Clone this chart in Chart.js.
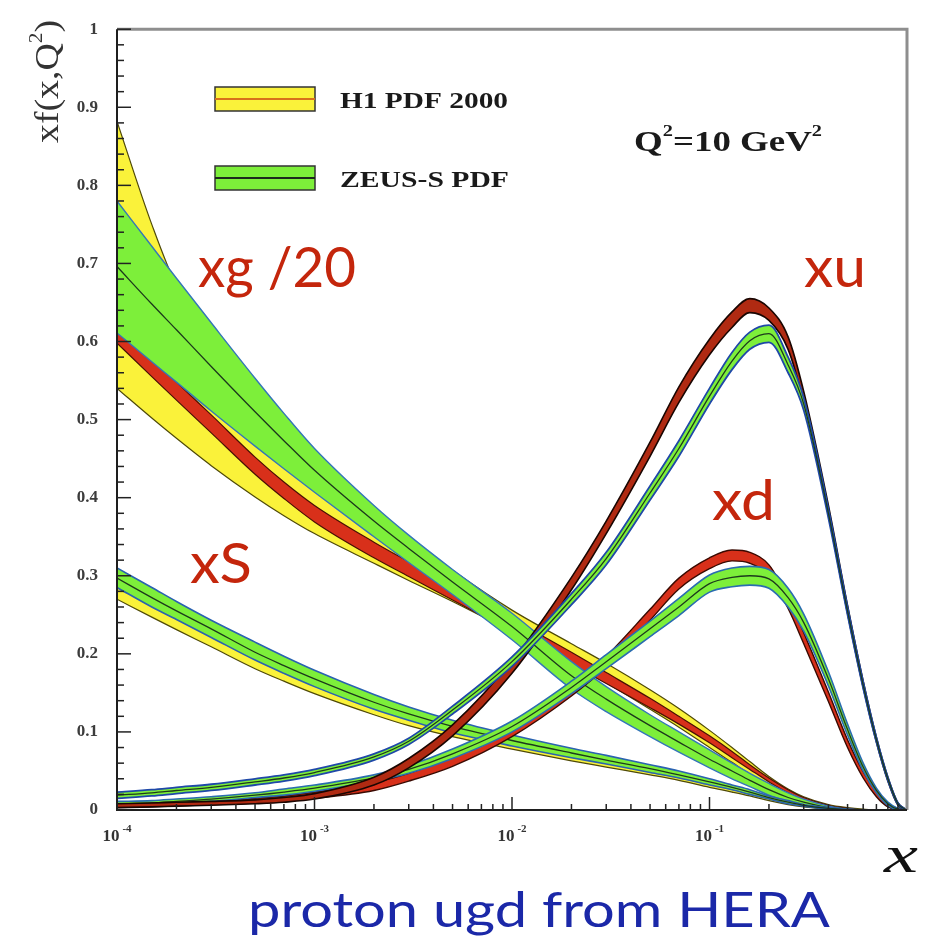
<!DOCTYPE html>
<html>
<head>
<meta charset="UTF-8" />
<script src="https://cdn.jsdelivr.net/npm/chart.js@4.4.1/dist/chart.umd.min.js"></script>
<style>
  html, body { margin: 0; padding: 0; background: #fff; }
  #wrap { width: 932px; height: 942px; position: relative; }
</style>
</head>
<body>
<div id="wrap"><canvas id="pdfChart"></canvas></div>
<script>
// x grid shared by every curve (log scale, 1e-4 .. 1)
const xs = [1e-4, 1.5e-4, 2e-4, 3e-4, 5e-4, 7e-4, 1e-3, 2e-3, 3e-3, 5e-3, 1e-2, 2e-2, 3e-2, 5e-2,
            0.07, 0.1, 0.13, 0.16, 0.2, 0.25, 0.3, 0.4, 0.5, 0.6, 0.7, 0.8, 0.9, 1.0];

// gluon xg/20 - H1 total band (yellow) and inner band (red)
const gH1Hi    = [0.882, 0.75, 0.672, 0.612, 0.545, 0.50, 0.456, 0.383, 0.349, 0.307, 0.256, 0.213, 0.188, 0.154, 0.13, 0.102, 0.08, 0.062, 0.043, 0.027, 0.017, 0.007, 0.003, 0.001, 0, 0, 0, 0];
const gH1Lo    = [0.54, 0.502, 0.476, 0.441, 0.401, 0.377, 0.354, 0.316, 0.294, 0.267, 0.228, 0.188, 0.163, 0.129, 0.106, 0.08, 0.061, 0.046, 0.031, 0.019, 0.011, 0.004, 0.001, 0, 0, 0, 0, 0];
const gH1ExpHi = [0.62, 0.578, 0.548, 0.506, 0.452, 0.42, 0.39, 0.343, 0.318, 0.287, 0.245, 0.202, 0.176, 0.143, 0.12, 0.095, 0.075, 0.058, 0.041, 0.026, 0.016, 0.006, 0.002, 0, 0, 0, 0, 0];
const gH1ExpLo = [0.598, 0.555, 0.525, 0.483, 0.43, 0.399, 0.369, 0.323, 0.299, 0.269, 0.228, 0.187, 0.162, 0.131, 0.11, 0.086, 0.067, 0.052, 0.036, 0.022, 0.013, 0.004, 0.001, 0, 0, 0, 0, 0];
// gluon xg/20 - ZEUS-S band (green)
const gZeusHi  = [0.78, 0.722, 0.681, 0.624, 0.553, 0.508, 0.463, 0.39, 0.352, 0.308, 0.252, 0.19, 0.158, 0.122, 0.1, 0.077, 0.06, 0.047, 0.034, 0.022, 0.014, 0.005, 0.001, 0, 0, 0, 0, 0];
const gZeusMid = [0.696, 0.648, 0.615, 0.568, 0.51, 0.473, 0.435, 0.37, 0.335, 0.292, 0.235, 0.172, 0.142, 0.108, 0.087, 0.065, 0.05, 0.038, 0.026, 0.016, 0.01, 0.003, 0.0005, 0, 0, 0, 0, 0];
const gZeusLo  = [0.611, 0.574, 0.548, 0.511, 0.466, 0.437, 0.407, 0.35, 0.317, 0.276, 0.218, 0.155, 0.126, 0.094, 0.074, 0.054, 0.04, 0.03, 0.019, 0.011, 0.006, 0.001, 0, 0, 0, 0, 0, 0];

// sea xS
const sH1Hi    = [0.288, 0.263, 0.247, 0.224, 0.195, 0.178, 0.161, 0.132, 0.118, 0.102, 0.085, 0.07, 0.061, 0.05, 0.043, 0.034, 0.027, 0.021, 0.015, 0.009, 0.0055, 0.0018, 0.0004, 0, 0, 0, 0, 0];
const sH1Lo    = [0.27, 0.247, 0.231, 0.209, 0.181, 0.165, 0.149, 0.122, 0.108, 0.094, 0.078, 0.063, 0.055, 0.045, 0.038, 0.029, 0.023, 0.018, 0.012, 0.007, 0.004, 0.001, 0, 0, 0, 0, 0, 0];
const sZeusHi  = [0.31, 0.285, 0.267, 0.243, 0.215, 0.197, 0.179, 0.148, 0.132, 0.115, 0.096, 0.079, 0.07, 0.058, 0.05, 0.04, 0.032, 0.026, 0.018, 0.012, 0.007, 0.003, 0.001, 0, 0, 0, 0, 0];
const sZeusMid = [0.297, 0.272, 0.255, 0.232, 0.202, 0.185, 0.168, 0.138, 0.123, 0.107, 0.089, 0.073, 0.064, 0.053, 0.045, 0.036, 0.029, 0.023, 0.016, 0.01, 0.006, 0.002, 0.0005, 0, 0, 0, 0, 0];
const sZeusLo  = [0.285, 0.26, 0.244, 0.221, 0.192, 0.175, 0.158, 0.129, 0.115, 0.099, 0.082, 0.067, 0.059, 0.048, 0.041, 0.032, 0.026, 0.02, 0.014, 0.008, 0.005, 0.0015, 0.0003, 0, 0, 0, 0, 0];

// valence d: xd
const dH1Hi    = [0.007, 0.008, 0.009, 0.011, 0.015, 0.018, 0.023, 0.035, 0.047, 0.068, 0.106, 0.158, 0.197, 0.257, 0.297, 0.323, 0.333, 0.33, 0.314, 0.272, 0.227, 0.151, 0.09, 0.049, 0.023, 0.008, 0.002, 0];
const dH1Lo    = [0.003, 0.004, 0.005, 0.007, 0.009, 0.012, 0.015, 0.025, 0.037, 0.056, 0.094, 0.146, 0.183, 0.243, 0.283, 0.309, 0.319, 0.316, 0.3, 0.258, 0.213, 0.139, 0.08, 0.041, 0.017, 0.004, 0.0005, 0];
const dZeusHi  = [0.011, 0.012, 0.014, 0.017, 0.022, 0.027, 0.032, 0.045, 0.057, 0.078, 0.114, 0.165, 0.199, 0.242, 0.271, 0.301, 0.31, 0.312, 0.308, 0.284, 0.251, 0.177, 0.11, 0.06, 0.028, 0.01, 0.002, 0];
const dZeusMid = [0.008, 0.009, 0.011, 0.014, 0.019, 0.023, 0.028, 0.041, 0.052, 0.072, 0.107, 0.157, 0.19, 0.232, 0.26, 0.29, 0.298, 0.3, 0.296, 0.272, 0.24, 0.168, 0.103, 0.055, 0.025, 0.008, 0.001, 0];
const dZeusLo  = [0.005, 0.006, 0.008, 0.011, 0.016, 0.019, 0.024, 0.037, 0.047, 0.066, 0.1, 0.149, 0.181, 0.222, 0.249, 0.279, 0.286, 0.288, 0.284, 0.26, 0.229, 0.159, 0.096, 0.05, 0.022, 0.006, 0.0005, 0];

// valence u: xu
const uH1Hi    = [0.008, 0.009, 0.01, 0.011, 0.013, 0.016, 0.021, 0.042, 0.066, 0.109, 0.191, 0.298, 0.37, 0.471, 0.542, 0.603, 0.638, 0.655, 0.643, 0.606, 0.536, 0.39, 0.262, 0.165, 0.093, 0.042, 0.009, 0];
const uH1Lo    = [0.003, 0.004, 0.005, 0.006, 0.008, 0.01, 0.014, 0.032, 0.054, 0.095, 0.175, 0.282, 0.354, 0.453, 0.522, 0.583, 0.618, 0.637, 0.627, 0.59, 0.522, 0.378, 0.252, 0.157, 0.087, 0.037, 0.006, 0];
const uZeusHi  = [0.023, 0.026, 0.029, 0.033, 0.040, 0.045, 0.052, 0.072, 0.092, 0.133, 0.196, 0.277, 0.33, 0.415, 0.473, 0.54, 0.586, 0.612, 0.621, 0.58, 0.528, 0.386, 0.26, 0.164, 0.093, 0.042, 0.009, 0];
const uZeusMid = [0.019, 0.022, 0.025, 0.029, 0.036, 0.041, 0.048, 0.068, 0.088, 0.128, 0.19, 0.27, 0.322, 0.406, 0.463, 0.53, 0.575, 0.601, 0.61, 0.57, 0.52, 0.38, 0.255, 0.16, 0.09, 0.04, 0.008, 0];
const uZeusLo  = [0.015, 0.018, 0.021, 0.025, 0.032, 0.037, 0.044, 0.064, 0.084, 0.123, 0.184, 0.263, 0.314, 0.397, 0.453, 0.52, 0.564, 0.59, 0.599, 0.56, 0.512, 0.374, 0.25, 0.156, 0.087, 0.038, 0.007, 0];

// axis labels
const xDecades = [1e-4, 1e-3, 1e-2, 1e-1];
const xTickExponents = ['-4', '-3', '-2', '-1'];
const yTickLabels = ['0', '0.1', '0.2', '0.3', '0.4', '0.5', '0.6', '0.7', '0.8', '0.9', '1'];

const YELLOW = '#faf23a';
const RED = '#d8301a';
const GREEN = '#7def3a';

const datasets = [];
const pts = (ys) => xs.map((x, i) => ({ x: x, y: ys[i] }));

// one band = lower edge + upper edge filled down to it (+ optional centre line)
// larger layer number = drawn further underneath
function addBand(hi, lo, mid, fillColor, edgeColor, edgeWidth, midColor, layer) {
  const loIndex = datasets.length;
  datasets.push({ data: pts(lo), borderColor: edgeColor, borderWidth: edgeWidth, fill: false, order: layer + 0.1 });
  datasets.push({ data: pts(hi), borderColor: edgeColor, borderWidth: edgeWidth, backgroundColor: fillColor, fill: loIndex, order: layer + 0.2 });
  if (mid) {
    datasets.push({ data: pts(mid), borderColor: midColor, borderWidth: 1.3, fill: false, order: layer });
  }
}

addBand(gH1Hi, gH1Lo, null, YELLOW, '#4f4a08', 1.2, null, 90);
addBand(gH1ExpHi, gH1ExpLo, null, RED, '#4a1005', 1.2, null, 85);
addBand(gZeusHi, gZeusLo, gZeusMid, GREEN, '#3476b8', 1.4, '#1c3a1c', 80);
addBand(sH1Hi, sH1Lo, null, YELLOW, '#4f4a08', 1.2, null, 70);
addBand(sZeusHi, sZeusLo, sZeusMid, GREEN, '#2a62b0', 1.6, '#1c3a1c', 65);
addBand(dH1Hi, dH1Lo, null, RED, '#3a0a02', 1.4, null, 50);
addBand(dZeusHi, dZeusLo, dZeusMid, GREEN, '#2a6cb0', 1.6, '#1c3a1c', 45);
addBand(uH1Hi, uH1Lo, null, '#b02a12', '#1a0602', 1.6, null, 30);
addBand(uZeusHi, uZeusLo, uZeusMid, GREEN, '#1f48a8', 1.8, '#1c3a1c', 25);

// draws text pieces in a row, squeezed/stretched to a target width
function drawFitted(ctx, parts, x, y, width) {
  let total = 0;
  parts.forEach((p) => { ctx.font = p.font; p.w = ctx.measureText(p.text).width; total += p.w; });
  ctx.save();
  ctx.translate(x, y);
  ctx.scale(width / total, 1);
  let cx = 0;
  parts.forEach((p) => { ctx.font = p.font; ctx.fillText(p.text, cx, p.dy || 0); cx += p.w; });
  ctx.restore();
}

const framePlugin = {
  id: 'frame',
  afterDatasetsDraw(chart) {
    const ctx = chart.ctx;
    const { left, right, top, bottom } = chart.chartArea;
    const xScale = chart.scales.x;
    const yScale = chart.scales.y;
    ctx.save();
    // gray top/right, black left/bottom
    ctx.strokeStyle = '#8e8e8e';
    ctx.lineWidth = 3;
    ctx.beginPath();
    ctx.moveTo(left, top); ctx.lineTo(right, top); ctx.lineTo(right, bottom);
    ctx.stroke();
    ctx.strokeStyle = '#1e1e1e';
    ctx.lineWidth = 2;
    ctx.beginPath();
    ctx.moveTo(left, top); ctx.lineTo(left, bottom); ctx.lineTo(right, bottom);
    ctx.stroke();

    // inward ticks
    ctx.lineWidth = 1.5;
    ctx.strokeStyle = '#222';
    yScale.ticks.forEach((t) => {
      const py = yScale.getPixelForValue(t.value);
      const len = Math.round(t.value * 50) % 5 === 0 ? 14 : 7;
      ctx.beginPath(); ctx.moveTo(left, py); ctx.lineTo(left + len, py); ctx.stroke();
    });
    xDecades.forEach((d) => {
      for (let m = 1; m <= 9; m++) {
        const px = xScale.getPixelForValue(m * d);
        const len = m === 1 ? 13 : 6;
        ctx.beginPath(); ctx.moveTo(px, bottom); ctx.lineTo(px, bottom - len); ctx.stroke();
      }
    });
    ctx.restore();
  },
  afterDraw(chart) {
    const ctx = chart.ctx;
    const xScale = chart.scales.x;
    ctx.save();
    ctx.textBaseline = 'alphabetic';
    ctx.textAlign = 'left';

    // x tick labels 10^-n
    ctx.fillStyle = '#333';
    xDecades.forEach((d, i) => {
      const px = xScale.getPixelForValue(d);
      ctx.font = 'bold 17px "Liberation Serif"';
      const w1 = ctx.measureText('10').width;
      ctx.font = 'bold 11px "Liberation Serif"';
      const w2 = ctx.measureText(xTickExponents[i]).width;
      const x0 = px - (w1 + 3 + w2) / 2;
      ctx.font = 'bold 17px "Liberation Serif"';
      ctx.fillText('10', x0, 841);
      ctx.font = 'bold 11px "Liberation Serif"';
      ctx.fillText(xTickExponents[i], x0 + w1 + 3, 832);
    });

    // y axis title, rotated
    ctx.save();
    ctx.translate(58, 143);
    ctx.rotate(-Math.PI / 2);
    ctx.fillStyle = '#333';
    drawFitted(ctx, [
      { text: 'xf(x,Q', font: '34px "Liberation Serif"' },
      { text: '2', font: '19px "Liberation Serif"', dy: -16 },
      { text: ')', font: '34px "Liberation Serif"' }
    ], 0, 0, 123);
    ctx.restore();

    // legend swatches
    const swatch = (y, fill, lineColor) => {
      ctx.fillStyle = fill;
      ctx.fillRect(215, y, 100, 24);
      ctx.strokeStyle = '#333';
      ctx.lineWidth = 1.5;
      ctx.strokeRect(215, y, 100, 24);
      ctx.strokeStyle = lineColor;
      ctx.lineWidth = 2;
      ctx.beginPath(); ctx.moveTo(215, y + 12); ctx.lineTo(315, y + 12); ctx.stroke();
    };
    swatch(87, YELLOW, '#d8701a');
    swatch(166, GREEN, '#1c2a1c');
    ctx.fillStyle = '#1a1a1a';
    drawFitted(ctx, [{ text: 'H1 PDF 2000', font: 'bold 24px "Liberation Serif"' }], 340, 108, 168);
    drawFitted(ctx, [{ text: 'ZEUS-S PDF', font: 'bold 24px "Liberation Serif"' }], 340, 187, 169);

    // Q^2 label
    drawFitted(ctx, [
      { text: 'Q', font: 'bold 29px "Liberation Serif"' },
      { text: '2', font: 'bold 16px "Liberation Serif"', dy: -15 },
      { text: '=10 GeV', font: 'bold 29px "Liberation Serif"' },
      { text: '2', font: 'bold 16px "Liberation Serif"', dy: -15 }
    ], 634, 151, 188);

    // curve labels
    ctx.fillStyle = '#c4260c';
    drawFitted(ctx, [{ text: 'xg /20', font: '57px Lato' }], 198, 287, 158);
    drawFitted(ctx, [{ text: 'xS', font: '57px Lato' }], 190, 583, 62);
    drawFitted(ctx, [{ text: 'xu', font: '57px Lato' }], 804, 287, 62);
    drawFitted(ctx, [{ text: 'xd', font: '57px Lato' }], 712, 520, 63);

    // x axis variable and caption
    ctx.fillStyle = '#111';
    drawFitted(ctx, [{ text: 'x', font: 'italic 52px "Liberation Serif"' }], 884, 872, 34);
    ctx.fillStyle = '#1b28a8';
    drawFitted(ctx, [{ text: 'proton ugd from HERA', font: '48px Lato' }], 248, 927, 582);
    ctx.restore();
  }
};

new Chart(document.getElementById('pdfChart').getContext('2d'), {
  type: 'line',
  data: { datasets: datasets },
  options: {
    responsive: true,
    maintainAspectRatio: false,
    animation: false,
    layout: { padding: { left: 0, right: 25, top: 20, bottom: 0 } },
    plugins: { legend: { display: false }, tooltip: { enabled: false } },
    elements: {
      point: { radius: 0 },
      line: { cubicInterpolationMode: 'monotone', borderJoinStyle: 'round', borderCapStyle: 'round' }
    },
    scales: {
      x: {
        type: 'logarithmic',
        min: 1e-4,
        max: 1,
        grid: { display: false, drawTicks: false },
        border: { display: false },
        ticks: { display: false },
        afterFit: (s) => { s.height = 132; }
      },
      y: {
        min: 0,
        max: 1,
        grid: { display: false, drawTicks: false },
        border: { display: false },
        ticks: {
          stepSize: 0.02,
          autoSkip: false,
          padding: 19,
          color: '#3c3c3c',
          font: { family: 'Liberation Serif', weight: 'bold', size: 17 },
          callback: (v) => {
            const k = Math.round(v * 50);
            return k % 5 === 0 ? yTickLabels[k / 5] : '';
          }
        },
        afterFit: (s) => { s.width = 117; }
      }
    }
  },
  plugins: [framePlugin]
});
</script>
</body>
</html>
